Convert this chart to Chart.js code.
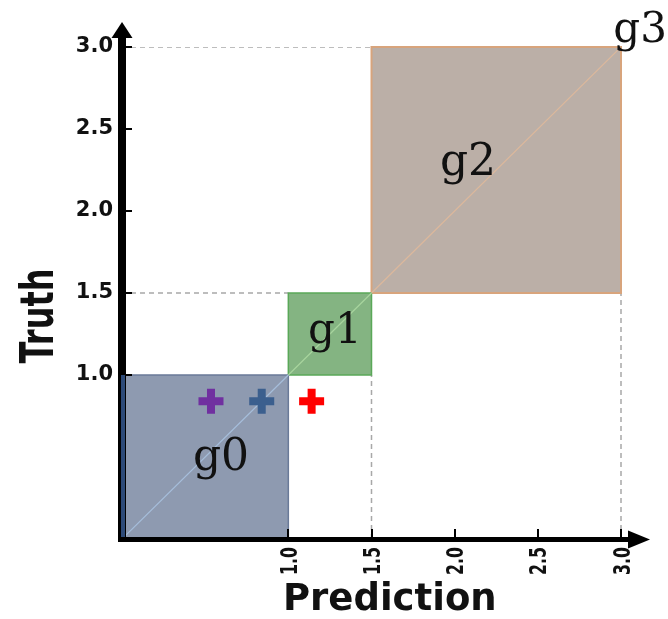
<!DOCTYPE html>
<html>
<head>
<meta charset="utf-8">
<script src="https://cdn.jsdelivr.net/npm/chart.js@4.4.1/dist/chart.umd.min.js"></script>
<style>
  html, body { margin: 0; padding: 0; background: #fff; }
  #wrap { width: 668px; height: 619px; }
</style>
</head>
<body>
<div id="wrap"><canvas id="c" width="668" height="619"></canvas></div>
<script>
// Groups: square regions on the prediction/truth plane
const groupNames = ['g0', 'g1', 'g2'];
const groupLow = [0.0, 1.0, 1.5];
const groupHigh = [1.0, 1.5, 3.0];

// Axis tick values (both axes)
const tickValues = [1.0, 1.5, 2.0, 2.5, 3.0];

// Individual samples
const sampleNames = ['sample A', 'sample B', 'sample C'];
const samplePred = [0.535, 0.84, 1.14];
const sampleTruth = [0.84, 0.84, 0.84];

// Group name labels (anchor = centre of text, baseline)
const labelNames = ['g0', 'g1', 'g2', 'g3'];
const labelPred = [0.595, 1.28, 2.08, 3.115];
const labelTruth = [0.42, 1.195, 2.22, 3.03];

// Axis titles
const xTitle = 'Prediction';
const yTitle = 'Truth';

// Styling
const groupFill = ['#8e9ab0', '#84b482', '#bbafa7'];
const groupEdge = ['#6a7a98', '#5aa858', '#d8a47c'];
const groupDiag = ['#a6bedb', '#a8d59e', '#dcb89c'];
const sampleColor = ['#7030a0', '#3b5f8e', '#ff0000'];
const labelSize = [44, 42, 44, 42];
const INK = '#111111';
const fmt = v => Number(v).toFixed(1);

const datasets = [];

// Sample markers (first so they sit on top)
sampleNames.forEach((n, i) => {
  datasets.push({
    label: n,
    data: [{ x: samplePred[i], y: sampleTruth[i] }],
    showLine: false,
    pointStyle: 'cross',
    pointRadius: 12.5,
    pointHoverRadius: 12.5,
    pointBorderWidth: 8,
    borderColor: sampleColor[i],
    backgroundColor: sampleColor[i]
  });
});

// Diagonal y = x inside every group
groupNames.forEach((n, i) => {
  datasets.push({
    label: n + ' diagonal',
    data: [{ x: groupLow[i], y: groupLow[i] }, { x: groupHigh[i], y: groupHigh[i] }],
    borderColor: groupDiag[i],
    borderWidth: 1.2,
    pointRadius: 0,
    fill: false
  });
});

// Group squares
groupNames.forEach((n, i) => {
  const lo = groupLow[i], hi = groupHigh[i];
  datasets.push({
    label: n,
    data: [
      { x: lo, y: lo }, { x: hi, y: lo }, { x: hi, y: hi }, { x: lo, y: hi }, { x: lo, y: lo }
    ],
    borderColor: groupEdge[i],
    borderWidth: i === 2 ? 2 : 1.5,
    backgroundColor: groupFill[i],
    pointRadius: 0,
    fill: 'shape',
    clip: 6
  });
});

// Dashed guides from the upper groups back to the axes
groupNames.forEach((n, i) => {
  if (groupLow[i] <= 0) return;
  const lo = groupLow[i], hi = groupHigh[i];
  datasets.push({
    label: n + ' guide h',
    data: [{ x: 0, y: hi }, { x: lo, y: hi }],
    borderColor: '#a8a8a8', borderWidth: 1.5, borderDash: [5, 4],
    pointRadius: 0, fill: false
  });
  datasets.push({
    label: n + ' guide v',
    data: [{ x: hi, y: 0 }, { x: hi, y: lo }],
    borderColor: '#a8a8a8', borderWidth: 1.5, borderDash: [5, 4],
    pointRadius: 0, fill: false, clip: 6
  });
});

// Draws text rotated to read upwards, squeezed along its length to `len` px
function upright(ctx, text, x, y, font, len) {
  ctx.save();
  ctx.font = font;
  const w = ctx.measureText(text).width;
  ctx.translate(x, y);
  ctx.rotate(-Math.PI / 2);
  ctx.scale(Math.min(1, len / w), 1);
  ctx.fillText(text, 0, 0);
  ctx.restore();
}

// Axis lines with arrowheads, inner tick marks, labels and axis titles
const decorations = {
  id: 'decorations',
  afterDatasetsDraw(chart) {
    const { ctx } = chart;
    const xs = chart.scales.x, ys = chart.scales.y;
    const x0 = xs.getPixelForValue(0), y0 = ys.getPixelForValue(0);
    const xEnd = xs.getPixelForValue(3), yEnd = ys.getPixelForValue(3);
    ctx.save();

    // y axis
    ctx.fillStyle = '#000';
    ctx.fillRect(x0 - 4, yEnd - 10, 8, y0 - yEnd + 13);
    ctx.beginPath();
    ctx.moveTo(x0, yEnd - 25);
    ctx.lineTo(x0 - 10.5, yEnd - 9);
    ctx.lineTo(x0 + 10.5, yEnd - 9);
    ctx.closePath();
    ctx.fill();

    // dark edge of the lowest group along the y axis
    ctx.fillStyle = '#2d4a78';
    const gTop = ys.getPixelForValue(groupHigh[0]);
    ctx.fillRect(x0 - 1, gTop, 4, y0 - gTop);

    // x axis
    ctx.fillStyle = '#000';
    ctx.fillRect(x0 - 4, y0 - 2, xEnd - x0 + 12, 5);
    ctx.beginPath();
    ctx.moveTo(xEnd + 29, y0 + 0.5);
    ctx.lineTo(xEnd + 7, y0 - 8.5);
    ctx.lineTo(xEnd + 7, y0 + 9.5);
    ctx.closePath();
    ctx.fill();

    // tick marks pointing inwards
    tickValues.forEach(v => {
      const py = Math.round(ys.getPixelForValue(v));
      ctx.fillRect(x0 + 3, py - 1, 7, 2);
      const px = Math.round(xs.getPixelForValue(v));
      ctx.fillRect(px - 1, y0 - 10, 2, 9);
    });

    // x tick labels, reading upwards
    ctx.fillStyle = INK;
    ctx.textAlign = 'left';
    ctx.textBaseline = 'alphabetic';
    tickValues.forEach(v => {
      upright(ctx, fmt(v), xs.getPixelForValue(v) + 8.5, y0 + 36, 'bold 23px "DejaVu Sans"', 28);
    });

    // group labels
    ctx.textAlign = 'center';
    labelNames.forEach((t, i) => {
      ctx.font = labelSize[i] + 'px "DejaVu Serif"';
      ctx.fillText(t, xs.getPixelForValue(labelPred[i]), ys.getPixelForValue(labelTruth[i]));
    });

    // x axis title
    ctx.font = 'bold 37px "DejaVu Sans"';
    ctx.fillText(xTitle, xs.getPixelForValue(1.61), 610);

    // y axis title
    upright(ctx, yTitle, 53, ys.getPixelForValue(1.36), 'bold 46px "DejaVu Sans"', 95);

    ctx.restore();
  }
};

const fixedTicks = scale => { scale.ticks = tickValues.map(v => ({ value: v })); };

new Chart(document.getElementById('c'), {
  type: 'line',
  data: { datasets },
  options: {
    responsive: false,
    animation: false,
    events: [],
    layout: { padding: { left: 0, right: 47, top: 47, bottom: 0 } },
    plugins: { legend: { display: false }, tooltip: { enabled: false } },
    elements: { line: { tension: 0 } },
    scales: {
      x: {
        type: 'linear',
        min: 0, max: 3,
        afterBuildTicks: fixedTicks,
        afterFit: s => { s.height = 80; },
        grid: { display: false, drawTicks: false },
        border: { display: false },
        ticks: { display: false }
      },
      y: {
        type: 'linear',
        min: 0, max: 3,
        afterBuildTicks: fixedTicks,
        afterFit: s => { s.width = 122; },
        grid: { display: false, drawTicks: false },
        border: { display: false },
        ticks: {
          font: { family: 'DejaVu Sans', weight: 'bold', size: 21 },
          color: INK, padding: 9,
          callback: fmt
        }
      }
    }
  },
  plugins: [decorations]
});
</script>
</body>
</html>
